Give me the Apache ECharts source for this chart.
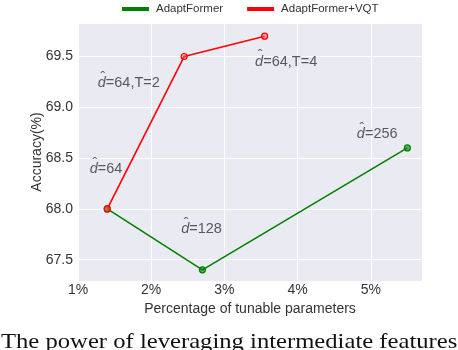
<!DOCTYPE html>
<html><head><meta charset="utf-8">
<script src="https://cdn.jsdelivr.net/npm/echarts@6/dist/echarts.min.js"></script>
<style>html,body{margin:0;padding:0;background:#fff}#c{width:458px;height:350px}</style>
</head><body><div id="c"></div>
<script>
var seriesNames = ['AdaptFormer', 'AdaptFormer+VQT'];
var adaptX = [1.4, 2.7, 5.5];
var adaptY = [68.0, 67.4, 68.6];
var vqtX = [1.4, 2.45, 3.55];
var vqtY = [68.0, 69.5, 69.7];
var annoText = ['64,T=2', '64,T=4', '64', '256', '128'];
var annoX = [1.27, 3.42, 1.16, 4.81, 2.41];
var annoY = [69.24, 69.45, 68.39, 68.74, 67.80];
var xTicks = [1, 2, 3, 4, 5];
var caption = 'The power of leveraging intermediate features';

var chart = echarts.init(document.getElementById('c'));
function pts(xs, ys){ return xs.map(function(x,i){ return [x, ys[i]]; }); }
var annoData = annoX.map(function(x,i){
  return {value:[x, annoY[i]], label:{formatter:'{d|d}{t|=' + annoText[i] + '}'}};
});
var hatData = annoX.map(function(x,i){ return [x, annoY[i]]; });
var font = 'Liberation Sans, Arial, sans-serif';
chart.setOption({
  animation:false,
  textStyle:{fontFamily:font},
  legend:{
    data:seriesNames, top:-2, left:117, itemWidth:25, itemHeight:2, itemGap:24,
    icon:'rect',
    textStyle:{fontSize:11.5, color:'#333', fontFamily:font, padding:[0,0,0,3]}
  },
  grid:{left:78, right:36, top:23, bottom:69, show:true, backgroundColor:'#EAEAF2', borderWidth:0},
  xAxis:{
    type:'value', min:1, max:5.7, interval:1,
    name:'Percentage of tunable parameters', nameLocation:'middle', nameGap:19,
    nameTextStyle:{fontSize:14, color:'#333', fontFamily:font},
    axisLine:{show:false}, axisTick:{show:false},
    axisLabel:{fontSize:14, color:'#333', margin:2, fontFamily:font, formatter:function(v){return xTicks.indexOf(v)>=0? v+'%':'';}},
    splitLine:{lineStyle:{color:'#fff', width:1}}
  },
  yAxis:{
    type:'value', min:67.29, max:69.83, minInterval:0.5, maxInterval:0.5,
    name:'Accuracy(%)', nameLocation:'middle', nameGap:34, nameMoveOverlap:false,
    nameTextStyle:{fontSize:14, color:'#333', fontFamily:font},
    axisLine:{show:false}, axisTick:{show:false},
    axisLabel:{fontSize:14, color:'#333', margin:5, fontFamily:font, showMinLabel:false, showMaxLabel:false,
      formatter:function(v){return v.toFixed(1);}},
    splitLine:{lineStyle:{color:'#fff', width:1}}
  },
  series:[
    {name:seriesNames[0], type:'line', data:pts(adaptX, adaptY), color:'#008000',
     lineStyle:{width:1.6, color:'#008000'}, symbol:'circle', symbolSize:6,
     itemStyle:{color:'rgba(0,128,0,0.6)', borderColor:'#008000', borderWidth:1.2}, z:3},
    {name:seriesNames[1], type:'line', data:pts(vqtX, vqtY), color:'#ff0000',
     lineStyle:{width:1.6, color:'#ff0000'}, symbol:'circle', symbolSize:6,
     itemStyle:{color:'rgba(255,80,80,0.5)', borderColor:'#ff0000', borderWidth:1.2}, z:4},
    {type:'scatter', data:annoData, symbolSize:0, silent:true, z:5,
     label:{show:true, position:'right', distance:0,
       rich:{
         d:{fontSize:14.5, fontStyle:'italic', color:'#333', fontFamily:font},
         t:{fontSize:14.5, color:'#333', fontFamily:font}
       }}},
    {type:'scatter', data:hatData, symbolSize:0, silent:true, z:5,
     label:{show:true, position:'inside', offset:[5,-5], formatter:'\u02C6',
       fontSize:14, color:'#333', fontFamily:font}}
  ],
  graphic:[
    {type:'text', x:1, y:342, scaleX:1.12, style:{text:caption, fontFamily:'Liberation Serif, Times New Roman, serif', fontSize:22, fill:'#111', verticalAlign:'middle'}}
  ]
});
</script></body></html>
